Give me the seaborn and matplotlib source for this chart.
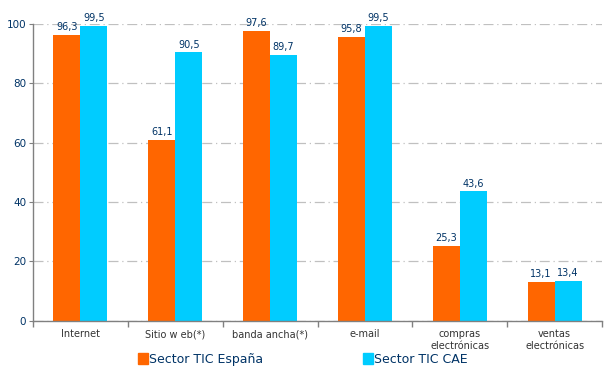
import pandas as pd
import seaborn as sns
import matplotlib.pyplot as plt
from matplotlib.ticker import FixedLocator

# Datos
categorias = ["Internet", "Sitio w eb(*)", "banda ancha(*)", "e-mail",
              "compras\nelectrónicas", "ventas\nelectrónicas"]
espana = [96.3, 61.1, 97.6, 95.8, 25.3, 13.1]
cae = [99.5, 90.5, 89.7, 99.5, 43.6, 13.4]
series = ["Sector TIC España", "Sector TIC CAE"]
colores = ["#FF6600", "#00CCFF"]

df = pd.DataFrame({
    "categoria": categorias * 2,
    "valor": espana + cae,
    "serie": [series[0]] * len(categorias) + [series[1]] * len(categorias),
})

sns.set_style("white")
plt.rcParams['font.family'] = ['DejaVu Sans']

fig = plt.figure(figsize=(6.06, 3.77), dpi=100)
ax = fig.add_axes([0.0545, 0.149, 0.939, 0.787])

sns.barplot(data=df, x="categoria", y="valor", hue="serie", palette=colores,
            width=0.57, saturation=1, linewidth=0, ax=ax, legend=False)

for cont in ax.containers:
    ax.bar_label(cont, labels=[f"{v:.1f}".replace(".", ",") for v in cont.datavalues],
                 fontsize=7, color="#003366", padding=2)

ax.set_ylim(0, 100)
ax.set_xlim(-0.5, len(categorias) - 0.5)
ax.set_yticks([0, 20, 40, 60, 80, 100])
ax.tick_params(axis="y", left=True, labelsize=7.5, labelcolor="#003366", length=3,
               color="#808080", pad=2)
ax.tick_params(axis="x", which="major", labelsize=7, labelcolor="#333333", length=0, pad=6)
ax.xaxis.set_minor_locator(FixedLocator([i - 0.5 for i in range(len(categorias) + 1)]))
ax.tick_params(axis="x", which="minor", bottom=True, length=4, width=1,
               color="#808080", direction="out")
ax.set_xlabel("")
ax.set_ylabel("")

ax.yaxis.grid(True, color="#C0C0C0", linestyle=(0, (8, 3, 1, 3)), linewidth=0.9)
ax.set_axisbelow(True)
for s in ["top", "right"]:
    ax.spines[s].set_visible(False)
for s in ["left", "bottom"]:
    ax.spines[s].set_color("#808080")
    ax.spines[s].set_linewidth(1)

handles = [plt.Rectangle((0, 0), 1, 1, color=c) for c in colores]
fig.legend(handles, series, loc="lower center", bbox_to_anchor=(0.5, 0.0), ncol=2,
           frameon=False, fontsize=9, handlelength=0.8, handleheight=0.9,
           handletextpad=0.1, columnspacing=8, labelcolor="#003366")

fig.savefig("out.png", dpi=100)
